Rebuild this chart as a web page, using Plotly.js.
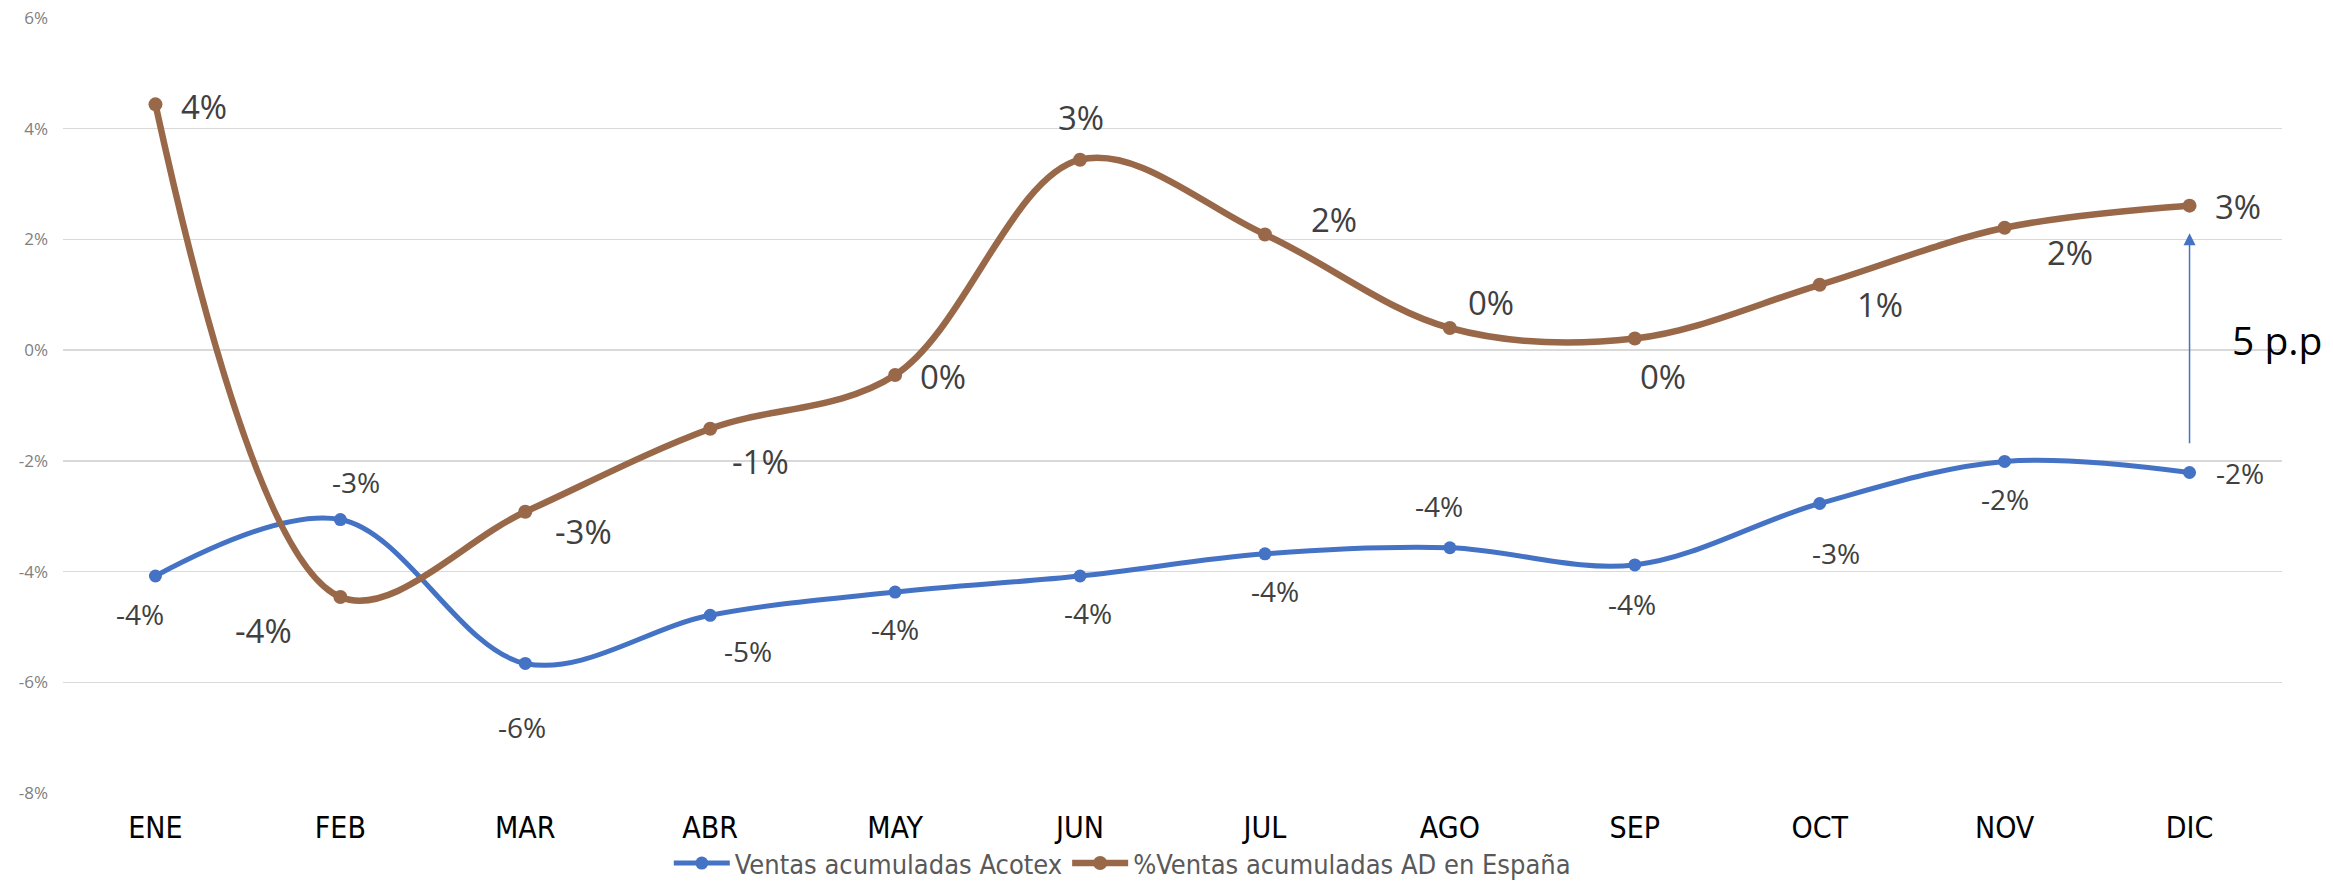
<!DOCTYPE html>
<html>
<head>
<meta charset="utf-8">
<script src="https://cdn.plot.ly/plotly-3.0.1.min.js"></script>
<style>html,body{margin:0;padding:0;background:#fff;}#chart{width:2333px;height:888px;}</style>
</head>
<body>
<div id="chart"></div>
<script>
// ---- data (percent) ----
var months = ["ENE","FEB","MAR","ABR","MAY","JUN","JUL","AGO","SEP","OCT","NOV","DIC"];
var acotex = [-4.08,-3.06,-5.66,-4.79,-4.37,-4.08,-3.68,-3.57,-3.88,-2.77,-2.01,-2.21];
var espana = [4.44,-4.46,-2.92,-1.42,-0.45,3.44,2.09,0.40,0.21,1.18,2.21,2.61];
var yTicks = [-8,-6,-4,-2,0,2,4,6];
var nameAcotex = "Ventas acumuladas Acotex";
var nameEspana = "%Ventas acumuladas AD en España";

// ---- styling ----
var blue = "#4472C4", brown = "#996849";
// label pixel offsets [xshift, yshift]
var offEsp = [[49,-2],[-77,-33],[58,-20],[50,-33],[48,-1],[1,42],[69,15],[41,26],[28,-38],[60,-20],[65,-25],[48,-1]];
var offAco = [[-15,-38],[16,38],[-3,-64],[38,-36],[0,-37],[8,-37],[10,-37],[-11,42],[-3,-39],[16,-50],[0,-38],[50,-1]];

function pct(v){ var r = Math.round(v); if (r === 0) r = 0; return r + "%"; }

var traces = [
  {x: months, y: acotex, name: nameAcotex, type: "scatter", mode: "lines+markers",
   line: {color: blue, width: 5, shape: "spline", smoothing: 1}, marker: {color: blue, size: 13}},
  {x: months, y: espana, name: nameEspana, type: "scatter", mode: "lines+markers",
   line: {color: brown, width: 6.5, shape: "spline", smoothing: 1}, marker: {color: brown, size: 14}}
];

var ann = [];
months.forEach(function(m, i){
  ann.push({x: m, y: espana[i], text: pct(espana[i]), showarrow: false,
    xshift: offEsp[i][0], yshift: offEsp[i][1],
    font: {family: "Open Sans", size: 33, color: "#404040"}});
  ann.push({x: m, y: acotex[i], text: pct(acotex[i]), showarrow: false,
    xshift: offAco[i][0], yshift: offAco[i][1],
    font: {family: "Open Sans", size: 28, color: "#404040"}});
});
var last = months.length - 1;
ann.push({x: months[last], y: espana[last] - 0.5, ax: months[last], ay: acotex[last] + 0.5,
  axref: "x", ayref: "y", xref: "x", yref: "y", text: "", showarrow: true,
  arrowhead: 2, arrowsize: 1.6, arrowwidth: 1.5, arrowcolor: blue, standoff: 0, startstandoff: 0});
ann.push({x: months[last], y: (espana[last] + acotex[last]) / 2, xshift: 87,
  text: Math.round(espana[last] - acotex[last]) + " p.p", showarrow: false,
  font: {family: "Open Sans", size: 39, color: "#000000"}});

var layout = {
  width: 2333, height: 888,
  margin: {l: 63, r: 51, t: 18, b: 95, autoexpand: false},
  paper_bgcolor: "#ffffff", plot_bgcolor: "#ffffff",
  showlegend: true,
  hovermode: false,
  xaxis: {type: "category", range: [-0.5, 11.5], showgrid: false, showline: false, zeroline: false,
    ticks: "", ticklabelstandoff: 14, automargin: false,
    tickfont: {family: "Liberation Sans Narrow, DejaVu Sans Condensed, sans-serif", size: 30, color: "#000000"}},
  yaxis: {range: [-8, 6], tickvals: yTicks, ticktext: yTicks.map(function(t){return t + "%";}),
    showgrid: true, gridcolor: "#d9d9d9", gridwidth: 1.5, zeroline: false, showline: false,
    ticks: "", ticklabelstandoff: 14, automargin: false,
    tickfont: {family: "Open Sans", size: 17, color: "#808080"}},
  legend: {orientation: "h", x: 0.273, xanchor: "left", yref: "container", y: -0.011, yanchor: "bottom", itemwidth: 56,
    font: {family: "Liberation Sans Narrow, DejaVu Sans Condensed, sans-serif", size: 27, color: "#595959"},
    bgcolor: "rgba(0,0,0,0)"},
  annotations: ann
};

Plotly.newPlot("chart", traces, layout, {displayModeBar: false, staticPlot: true});
</script>
</body>
</html>
